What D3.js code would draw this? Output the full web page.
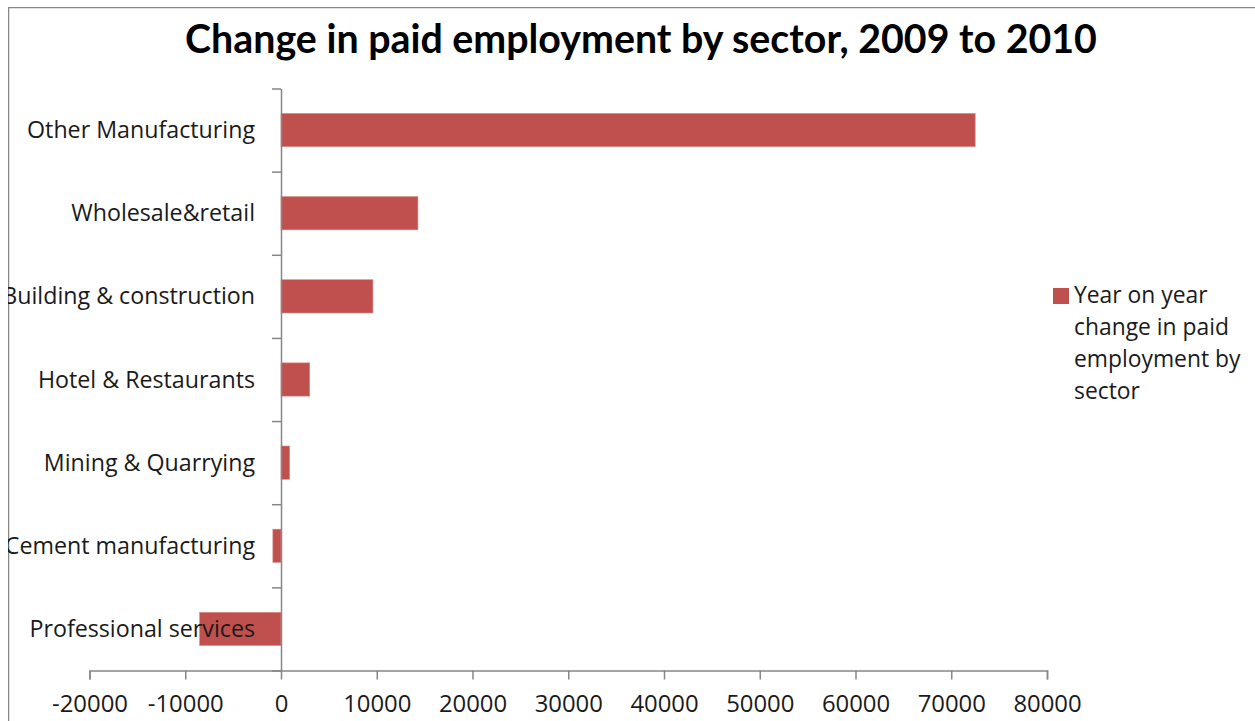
<!DOCTYPE html>
<html>
<head>
<meta charset="utf-8">
<script src="https://cdn.jsdelivr.net/npm/d3@7"></script>
<style>
  html, body { margin: 0; padding: 0; background: #fff; }
  svg { display: block; }
</style>
</head>
<body>
<svg id="chart" width="1255" height="721"></svg>
<script>
// Sectors, top to bottom
const sectors = [
  "Other Manufacturing",
  "Wholesale&retail",
  "Building & construction",
  "Hotel & Restaurants",
  "Mining & Quarrying",
  "Cement manufacturing",
  "Professional services"
];
// Year on year change in paid employment, 2009 to 2010
const changes = [72500, 14300, 9600, 3000, 900, -850, -8500];
const xTicks = [-20000, -10000, 0, 10000, 20000, 30000, 40000, 50000, 60000, 70000, 80000];
const seriesName = ["Year on year", "change in paid", "employment by", "sector"];
const titleText = "Change in paid employment by sector, 2009 to 2010";

const W = 1255, H = 721;
const FONT = "'Open Sans', Lato, sans-serif";
const TFONT = "Lato, 'Open Sans', sans-serif";
const AXIS = "#868686";
const BAR = "#C0504D";
const INK = "#1a1a1a";

const svg = d3.select("#chart");

// size a text so that a sample string spans the given width
function fitSize(family, weight, sample, width, base) {
  const t = svg.append("text").attr("font-family", family).attr("font-weight", weight)
    .attr("font-size", base).text(sample);
  const w = t.node().getComputedTextLength();
  t.remove();
  return base * width / w;
}

// chart frame clip (content outside the frame is cut off)
svg.append("clipPath").attr("id", "frame")
  .append("rect").attr("x", 8).attr("y", 7).attr("width", W).attr("height", H);

const root = svg.append("g").attr("clip-path", "url(#frame)");

// frame border
root.append("rect")
  .attr("x", 8.5).attr("y", 7.5)
  .attr("width", W + 20).attr("height", H + 20)
  .attr("fill", "#fff").attr("stroke", AXIS).attr("stroke-width", 1.5);

const plot = { left: 89.5, right: 1047, top: 88.5, bottom: 670.5 };

const x = d3.scaleLinear().domain([-20000, 80000]).range([plot.left, plot.right]);
const y = d3.scaleBand().domain(sectors)
  .range([plot.top, plot.bottom])
  .paddingInner(0.6).paddingOuter(0.3);

const labelSize = fitSize(FONT, 400, sectors[0], 228, 20);
const tickSize = fitSize(FONT, 400, "-20000", 76, 20);
const legendSize = fitSize(FONT, 400, seriesName[1], 155, 20);

// title
root.append("text")
  .attr("x", 641).attr("y", 53)
  .attr("text-anchor", "middle")
  .attr("font-family", TFONT).attr("font-weight", 700)
  .attr("font-size", fitSize(TFONT, 700, titleText, 912, 34)).attr("fill", "#000")
  .text(titleText);

// bars
root.append("g").selectAll("rect")
  .data(sectors)
  .join("rect")
  .attr("x", (d, i) => x(Math.min(0, changes[i])))
  .attr("y", d => y(d))
  .attr("width", (d, i) => Math.abs(x(changes[i]) - x(0)))
  .attr("height", y.bandwidth())
  .attr("fill", BAR)
  .attr("stroke", "#d98a88").attr("stroke-width", 0.6);

// x axis
const xAxis = root.append("g")
  .attr("transform", `translate(0,${plot.bottom})`)
  .call(d3.axisBottom(x).tickValues(xTicks).tickSize(9).tickPadding(16).tickFormat(d => String(d)));
xAxis.select(".domain").attr("stroke", AXIS).attr("stroke-width", 1.5);
xAxis.selectAll(".tick line").attr("stroke", AXIS).attr("stroke-width", 1.5);
xAxis.selectAll(".tick text")
  .attr("font-family", FONT).attr("font-size", tickSize).attr("fill", INK);

// y axis at zero, category boundaries as ticks
const bounds = d3.range(sectors.length + 1);
const yb = d3.scaleLinear().domain([0, sectors.length]).range([plot.top, plot.bottom]);
const yAxis = root.append("g")
  .attr("transform", `translate(${x(0)},0)`)
  .call(d3.axisLeft(yb).tickValues(bounds).tickSize(9).tickSizeOuter(0).tickFormat(""));
yAxis.select(".domain").attr("stroke", AXIS).attr("stroke-width", 1.5);
yAxis.selectAll(".tick line").attr("stroke", AXIS).attr("stroke-width", 1.5);

// category labels
root.append("g").selectAll("text")
  .data(sectors)
  .join("text")
  .attr("x", 255)
  .attr("y", d => y(d) + y.bandwidth() / 2)
  .attr("dy", "0.35em")
  .attr("text-anchor", "end")
  .attr("font-family", FONT).attr("font-size", labelSize).attr("fill", INK)
  .text(d => d);

// legend
const lg = root.append("g").attr("transform", "translate(1053,288)");
lg.append("rect").attr("width", 16).attr("height", 16).attr("fill", BAR);
lg.append("text")
  .attr("font-family", FONT).attr("font-size", legendSize).attr("fill", INK)
  .selectAll("tspan")
  .data(seriesName)
  .join("tspan")
  .attr("x", 21)
  .attr("y", (d, i) => 15 + i * 32)
  .text(d => d);
</script>
</body>
</html>
